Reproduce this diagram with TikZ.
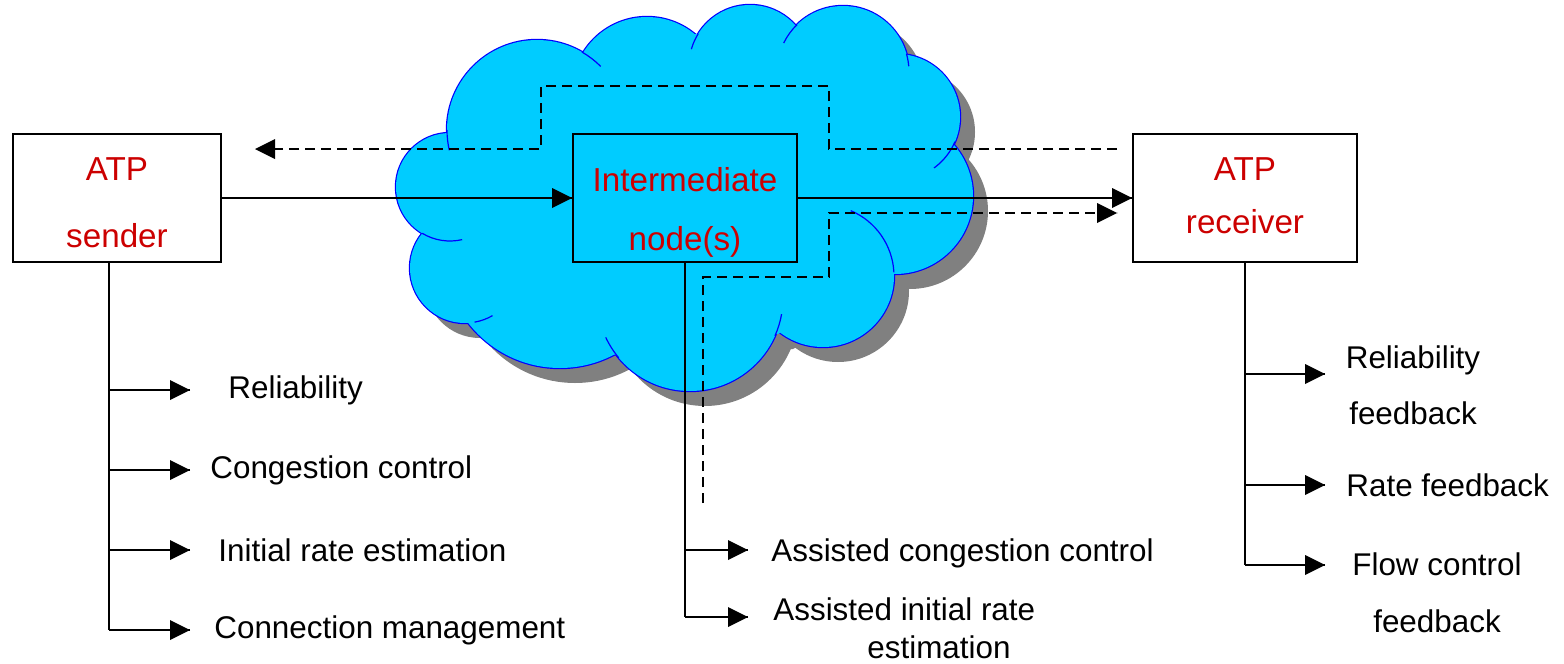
\documentclass[tikz,border=0pt]{standalone}
\usepackage{fontspec}
\setmainfont{Liberation Sans}
\definecolor{cloudblue}{RGB}{0,204,255}
\definecolor{cloudedge}{RGB}{0,0,255}
\definecolor{shadowgray}{RGB}{128,128,128}
\definecolor{atpred}{RGB}{204,0,0}
% cloud lobes: centre x / centre y / radius
\newcommand{\lobes}{537/130/90, 647/92/75, 750/66/61, 843/72/66, 897/117/63, 895/196/78, 823/276/71, 690/298/93, 560/252/116, 465/268/55, 450/187/54}

\begin{document}
\begin{tikzpicture}[x=0.5pt,y=-0.5pt,
  host/.style={draw,line width=1pt,inner sep=0pt,minimum width=112pt,minimum height=64pt,text=atpred,align=center},
  item/.style={inner sep=0pt,anchor=west,font=\fontsize{15.7}{19}\selectfont},
  wire/.style={line width=1pt},
  fb/.style={line width=1.1pt,dash pattern=on 5pt off 3pt}]
\useasboundingbox (0,0) rectangle (1564,664);
% cloud: shadow, outline, body
\begin{scope}[shift={(15,15)}]
\fill [shadowgray] (448,134) -- (583,53) -- (696,34) -- (795,25) -- (907,55) -- (953,143) -- (895,270) -- (778,334) -- (617,355) -- (475,321) -- (423,233) -- cycle;
\fill [shadowgray] \foreach \cx/\cy/\r in \lobes {(\cx,\cy) circle[radius=\r]};
\end{scope}
\draw [cloudedge,line width=1.2pt] \foreach \cx/\cy/\r in \lobes {(\cx,\cy) circle[radius=\r]};
\fill [cloudblue] (448,134) -- (583,53) -- (696,34) -- (795,25) -- (907,55) -- (953,143) -- (895,270) -- (778,334) -- (617,355) -- (475,321) -- (423,233) -- cycle;
\fill [cloudblue] \foreach \cx/\cy/\r in \lobes {(\cx,\cy) circle[radius=\r]};
\foreach \cx/\cy/\r/\a/\b in {537/130/90/167/180, 537/130/90/-60/-45, 750/66/61/196/212, 843/72/66/206/226, 843/72/66/-16/-5, 897/117/63/23/54, 823/276/71/-67/-3, 690/298/93/10/24, 690/298/93/140/155, 465/268/55/60/80, 450/187/54/77/121}
  \draw [cloudedge,line width=0.6pt] (\cx,\cy) ++(\a:\r) arc[start angle=\a,end angle=\b,radius=\r];

% hosts
\node [host,minimum width=104pt] (sender) at (117,198) {};
\node [text=atpred,align=center,font=\fontsize{16.6}{33.5}\selectfont] (sendertext) at (117,203) {ATP\\sender};
\node [host] (inter) at (685,198) {};
\node [text=atpred,align=center,font=\fontsize{16.6}{29.5}\selectfont] (intertext) at (685,212) {Intermediate\\node(s)};
\node [host] (receiver) at (1245,198) {};
\node [text=atpred,align=center,font=\fontsize{16.6}{26.5}\selectfont] (receivertext) at (1245,196) {ATP\\receiver};

% data path
\draw [wire] (sender.east) -- (inter.west);
\fill (inter.west) -- ++(-20,-10) -- ++(0,20) -- cycle;
\draw [wire] (inter.east) -- (receiver.west);
\fill (receiver.west) -- ++(-20,-10) -- ++(0,20) -- cycle;

% feedback and assisted paths
\coordinate (fbin) at (1117,149);
\coordinate (fbout) at (255,149);
\draw [fb] (fbin) -- (829,149) -- (829,86) -- (541,86) -- (541,149) -- (fbout);
\fill (fbout) -- ++(20,-10) -- ++(0,20) -- cycle;
\coordinate (astfoot) at (703,503);
\coordinate (asttip) at (1117,213);
\draw [fb] (astfoot) -- (703,277) -- (829,277) -- (829,213) -- (asttip);
\fill (asttip) -- ++(-20,-10) -- ++(0,20) -- cycle;

% sender functions
\coordinate (sndfoot) at (109,630);
\draw [wire] ([xshift=-4pt]sender.south) -- (sndfoot);
\coordinate (relA) at (190,390);
\coordinate (congA) at (190,470);
\coordinate (initA) at (190,550);
\coordinate (connA) at (190,630);
\draw [wire] (relA -| sndfoot) -- (relA);
\fill (relA) -- ++(-20,-10) -- ++(0,20) -- cycle;
\draw [wire] (congA -| sndfoot) -- (congA);
\fill (congA) -- ++(-20,-10) -- ++(0,20) -- cycle;
\draw [wire] (initA -| sndfoot) -- (initA);
\fill (initA) -- ++(-20,-10) -- ++(0,20) -- cycle;
\draw [wire] (connA -| sndfoot) -- (connA);
\fill (connA) -- ++(-20,-10) -- ++(0,20) -- cycle;
\node [item] (rel) at (228,390) {Reliability};
\node [item] (cong) at (210,470) {Congestion control};
\node [item] (init) at (218,550) {Initial rate estimation};
\node [item] (conn) at (214,630) {Connection management};

% intermediate functions
\coordinate (intfoot) at (685,617);
\draw [wire] (inter.south) -- (intfoot);
\coordinate (astcongA) at (748,550);
\coordinate (astinitA) at (748,617);
\draw [wire] (astcongA -| intfoot) -- (astcongA);
\fill (astcongA) -- ++(-20,-10) -- ++(0,20) -- cycle;
\draw [wire] (astinitA -| intfoot) -- (astinitA);
\fill (astinitA) -- ++(-20,-10) -- ++(0,20) -- cycle;
\node [item] (astcong) at (771,553) {Assisted congestion control};
\node [item,align=left,font=\fontsize{15.7}{19}\selectfont] (astinit) at (773,628) {Assisted initial rate\\\hspace*{47pt}estimation};

% receiver functions
\coordinate (rcvfoot) at (1245,565);
\draw [wire] (receiver.south) -- (rcvfoot);
\coordinate (relfbA) at (1325,374);
\coordinate (ratefbA) at (1325,485);
\coordinate (flowfbA) at (1325,565);
\draw [wire] (relfbA -| rcvfoot) -- (relfbA);
\fill (relfbA) -- ++(-20,-10) -- ++(0,20) -- cycle;
\draw [wire] (ratefbA -| rcvfoot) -- (ratefbA);
\fill (ratefbA) -- ++(-20,-10) -- ++(0,20) -- cycle;
\draw [wire] (flowfbA -| rcvfoot) -- (flowfbA);
\fill (flowfbA) -- ++(-20,-10) -- ++(0,20) -- cycle;
\node [item,anchor=center,align=center,font=\fontsize{15.7}{28}\selectfont] (relfb) at (1413,385) {Reliability\\feedback};
\node [item] (ratefb) at (1346,485) {Rate feedback};
\node [item,anchor=center,align=center,font=\fontsize{15.7}{28.5}\selectfont] (flowfb) at (1437,593) {Flow control\\feedback};
\end{tikzpicture}
\end{document}
